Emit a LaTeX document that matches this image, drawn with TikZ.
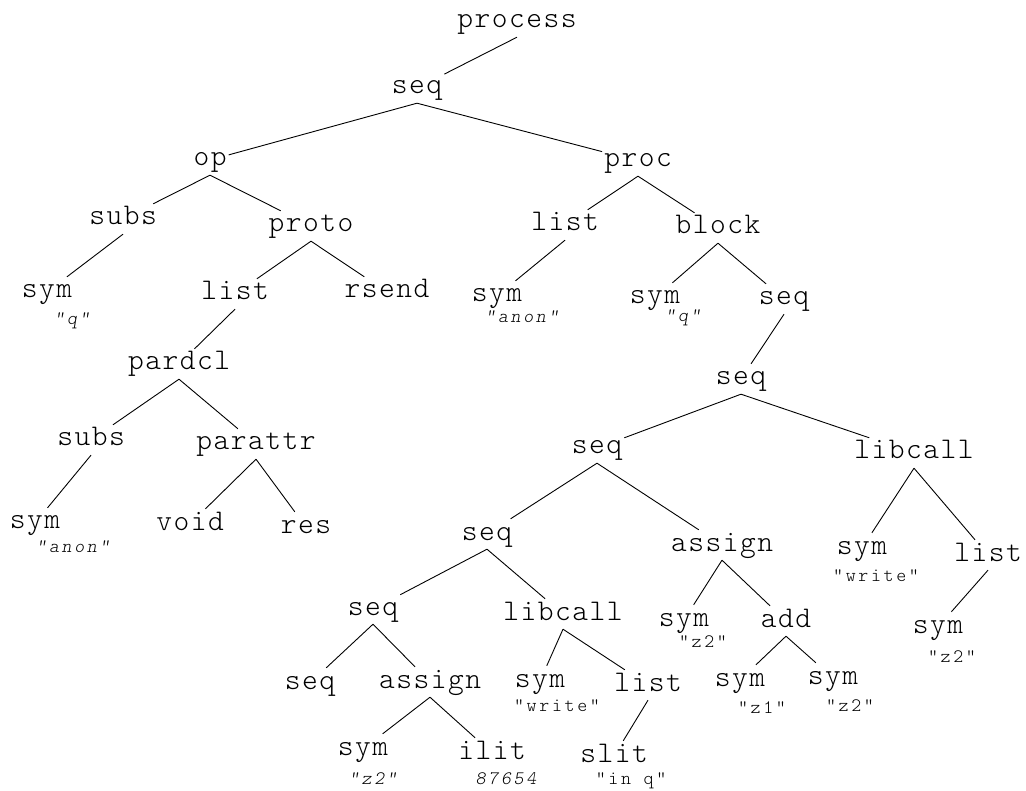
\documentclass[tikz,border=0pt]{standalone}
\usepackage{fontspec}
\newfontfamily\astfont{lmmonolt10-regular.otf}[LetterSpace=5]
\newfontfamily\astvalfont{lmmonolt10-regular.otf}[ItalicFont=lmmonolt10-oblique.otf, LetterSpace=14]
\tikzstyle{astnode} = [font=\astfont\fontsize{30}{30}\selectfont,
    text height=17pt, text depth=5pt, inner xsep=2pt, inner ysep=4pt]
\tikzstyle{astval} = [font=\astvalfont\fontsize{19}{19}\selectfont, inner sep=0pt]
\tikzstyle{astedge} = [line width=0.9pt]

\begin{document}
\begin{tikzpicture}[x=1pt, y=-1pt]
    \useasboundingbox (0,0) rectangle (1026,791);

    \node [astnode] (process) at (517,22) {process};
    \node [astnode] (seq0) at (417,88) {seq};
    \node [astnode] (op) at (210,160) {op};
    \node [astnode] (proc) at (638,161) {proc};

    % left branch: op
    \node [astnode] (opsubs) at (123,219) {subs};
    \node [astnode] (proto) at (311,226) {proto};
    \node [astnode] (opsym) at (47,292) {sym};
    \node [astnode] (plist) at (235,294) {list};
    \node [astnode] (rsend) at (387,292) {rsend};
    \node [astnode] (pardcl) at (179,364) {pardcl};
    \node [astnode] (psubs) at (91,440) {subs};
    \node [astnode] (parattr) at (256,444) {parattr};
    \node [astnode] (psym) at (35,523) {sym};
    \node [astnode] (void) at (190,524) {void};
    \node [astnode] (res) at (306,527) {res};

    % right branch: proc
    \node [astnode] (prlist) at (565,225) {list};
    \node [astnode] (block) at (718,228) {block};
    \node [astnode] (prsym) at (497,296) {sym};
    \node [astnode] (bsym) at (655,298) {sym};
    \node [astnode] (bseq) at (784,299) {seq};
    \node [astnode] (bseqb) at (741,379) {seq};
    \node [astnode] (seqa) at (597,448) {seq};
    \node [astnode] (libb) at (914,453) {libcall};
    \node [astnode] (seqb) at (487,534) {seq};
    \node [astnode] (assigna) at (722,545) {assign};
    \node [astnode] (lbsym) at (862,548) {sym};
    \node [astnode] (lblist) at (988,555) {list};
    \node [astnode] (lbsymb) at (938,627) {sym};
    \node [astnode] (seqc) at (373,609) {seq};
    \node [astnode] (liba) at (563,614) {libcall};
    \node [astnode] (asym) at (684,620) {sym};
    \node [astnode] (add) at (786,621) {add};
    \node [astnode] (addsyma) at (740,680) {sym};
    \node [astnode] (addsymb) at (833,678) {sym};
    \node [astnode] (seqd) at (310,683) {seq};
    \node [astnode] (assignb) at (430,682) {assign};
    \node [astnode] (lasym) at (540,681) {sym};
    \node [astnode] (lalist) at (648,685) {list};
    \node [astnode] (bsymb) at (363,749) {sym};
    \node [astnode] (ilit) at (492,753) {ilit};
    \node [astnode] (slit) at (614,756) {slit};

    % values under the leaves
    \node [astval] (opsymval) at (72,321) {\itshape "q"};
    \node [astval] (psymval) at (73,547) {\itshape "anon"};
    \node [astval] (prsymval) at (522,317) {\itshape "anon"};
    \node [astval] (bsymval) at (683,318) {\itshape "q"};
    \node [astval] (lbsymval) at (876,576) {"write"};
    \node [astval] (lbsymbval) at (952,657) {"z2"};
    \node [astval] (asymval) at (703,642) {"z2"};
    \node [astval] (addsymaval) at (762,708) {"z1"};
    \node [astval] (addsymbval) at (850,706) {"z2"};
    \node [astval] (lasymval) at (557,706) {"write"};
    \node [astval] (bsymbval) at (373,779) {\itshape "z2"};
    \node [astval] (ilitval) at (506,779) {\itshape 87654};
    \node [astval] (slitval) at (631,781) {"in q"};

    \foreach \parent/\child in {process/seq0, seq0/op, seq0/proc,
        op/opsubs, op/proto, opsubs/opsym, proto/plist, proto/rsend,
        plist/pardcl, pardcl/psubs, pardcl/parattr, psubs/psym,
        parattr/void, parattr/res,
        proc/prlist, proc/block, prlist/prsym, block/bsym, block/bseq,
        bseq/bseqb, bseqb/seqa, bseqb/libb, seqa/seqb, seqa/assigna,
        libb/lbsym, libb/lblist, lblist/lbsymb, seqb/seqc, seqb/liba,
        assigna/asym, assigna/add, add/addsyma, add/addsymb,
        seqc/seqd, seqc/assignb, liba/lasym, liba/lalist,
        assignb/bsymb, assignb/ilit, lalist/slit}
        \draw [astedge] (\parent.south) -- (\child);
\end{tikzpicture}
\end{document}
